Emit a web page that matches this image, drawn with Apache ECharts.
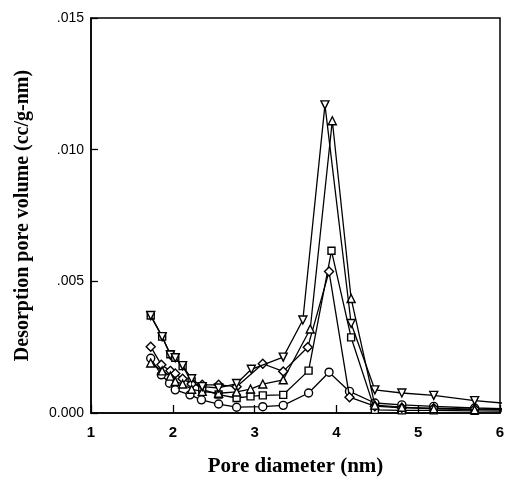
<!DOCTYPE html>
<html><head><meta charset="utf-8">
<script src="https://cdn.jsdelivr.net/npm/echarts@6/dist/echarts.min.js"></script>
<style>html,body{margin:0;padding:0;background:#fff}#c{width:510px;height:482px}</style>
</head><body><div id="c"></div>
<script>
// Tick values
const yTicks = [0, 0.005, 0.010, 0.015];
const xTicks = [1, 2, 3, 4, 5, 6];

// Series: triangle down
const tdX = [1.73, 1.87, 1.97, 2.03, 2.12, 2.23, 2.36, 2.56, 2.78, 2.96, 3.35, 3.59, 3.86, 4.18, 4.47, 4.80, 5.19, 5.69, 6.40];
const tdY = [0.0037, 0.0029, 0.0022, 0.0021, 0.0018, 0.0013, 0.0010, 0.00095, 0.00112, 0.00166, 0.00212, 0.00353, 0.0117, 0.0034, 0.00088, 0.00076, 0.00067, 0.00047, 0.00028];
// Series: triangle up
const tuX = [1.73, 1.87, 1.97, 2.03, 2.12, 2.23, 2.36, 2.56, 2.78, 2.95, 3.10, 3.35, 3.68, 3.95, 4.18, 4.47, 4.80, 5.19, 5.69, 6.40];
const tuY = [0.0019, 0.0016, 0.0014, 0.0012, 0.0011, 0.0009, 0.00082, 0.00075, 0.0008, 0.00091, 0.0011, 0.00126, 0.00319, 0.0111, 0.00435, 0.0003, 0.00022, 0.00016, 0.00013, 0.0001];
// Series: square
const sqX = [1.73, 1.87, 1.97, 2.03, 2.12, 2.23, 2.36, 2.56, 2.78, 2.95, 3.10, 3.35, 3.66, 3.94, 4.18, 4.47, 4.80, 5.19, 5.69, 6.40];
const sqY = [0.0037, 0.0029, 0.00223, 0.0021, 0.00178, 0.0012, 0.0009, 0.0007, 0.00057, 0.00063, 0.00067, 0.00069, 0.00161, 0.00616, 0.00287, 0.00012, 0.0001, 0.0001, 0.00008, 0.00006];
// Series: diamond
const dmX = [1.73, 1.86, 1.97, 2.03, 2.12, 2.23, 2.36, 2.56, 2.78, 3.10, 3.35, 3.65, 3.91, 4.16, 4.47, 4.80, 5.19, 5.69, 6.40];
const dmY = [0.00252, 0.00183, 0.0016, 0.0015, 0.0013, 0.0011, 0.00107, 0.00107, 0.0010, 0.00187, 0.00158, 0.0025, 0.00537, 0.0006, 0.00026, 0.0002, 0.00018, 0.00015, 0.00012];
// Series: circle
const ciX = [1.73, 1.86, 1.96, 2.03, 2.21, 2.35, 2.56, 2.78, 3.10, 3.35, 3.66, 3.91, 4.16, 4.47, 4.80, 5.19, 5.69, 6.40];
const ciY = [0.00208, 0.00145, 0.00113, 0.00088, 0.00069, 0.0005, 0.00034, 0.00022, 0.00024, 0.00029, 0.00076, 0.00155, 0.00082, 0.00038, 0.00031, 0.00025, 0.00019, 0.00014];

const zip = (xs, ys) => xs.map((x, i) => [x, ys[i]]);

function mk(name, xs, ys, symbol, rot, z) {
  return {
    name, type: 'line', data: zip(xs, ys), symbol, symbolRotate: rot || 0,
    symbolSize: symbol === 'rect' ? 7 : (symbol === 'diamond' ? 9 : 8),
    showAllSymbol: true, clip: true, z: z,
    lineStyle: { color: '#000', width: 1.3 },
    itemStyle: { color: '#fff', borderColor: '#000', borderWidth: 1.4 },
    animation: false
  };
}

const chart = echarts.init(document.getElementById('c'), null, { renderer: 'canvas' });
chart.setOption({
  backgroundColor: '#fff',
  animation: false,
  grid: { left: 91, right: 10, top: 18, bottom: 68, show: true, borderColor: '#000', borderWidth: 1.5, backgroundColor: 'transparent' },
  xAxis: {
    type: 'value', min: xTicks[0], max: xTicks[xTicks.length - 1], interval: 1,
    name: 'Pore diameter (nm)', nameLocation: 'middle', nameGap: 43,
    nameTextStyle: { fontFamily: 'Liberation Serif', fontWeight: 'bold', fontSize: 21, color: '#000' },
    axisLine: { show: true, onZero: false, lineStyle: { color: '#000', width: 1.5 } },
    axisTick: { show: true, inside: true, length: 8, lineStyle: { color: '#000', width: 1.3 } },
    axisLabel: { margin: 12, fontFamily: 'Liberation Sans', fontSize: 15, fontWeight: 'bold', color: '#000' },
    splitLine: { show: false }
  },
  yAxis: {
    type: 'value', min: yTicks[0], max: yTicks[yTicks.length - 1], interval: 0.005,
    name: 'Desorption pore volume (cc/g-nm)', nameLocation: 'middle', nameGap: 58,
    nameTextStyle: { fontFamily: 'Liberation Serif', fontWeight: 'bold', fontSize: 20, color: '#000' },
    axisLine: { show: true, lineStyle: { color: '#000', width: 1.5 } },
    axisTick: { show: true, inside: true, length: 7, lineStyle: { color: '#000', width: 1.3 } },
    axisLabel: {
      margin: 7, fontFamily: 'Liberation Sans', fontSize: 14, color: '#000',
      formatter: v => v === 0 ? '0.000' : '.' + v.toFixed(3).split('.')[1]
    },
    splitLine: { show: false }
  },
  series: [
    mk('circle', ciX, ciY, 'circle', 0, 2),
    mk('square', sqX, sqY, 'rect', 0, 3),
    mk('diamond', dmX, dmY, 'diamond', 0, 4),
    mk('triUp', tuX, tuY, 'triangle', 0, 5),
    mk('triDown', tdX, tdY, 'triangle', 180, 6)
  ]
});
</script>
</body></html>
